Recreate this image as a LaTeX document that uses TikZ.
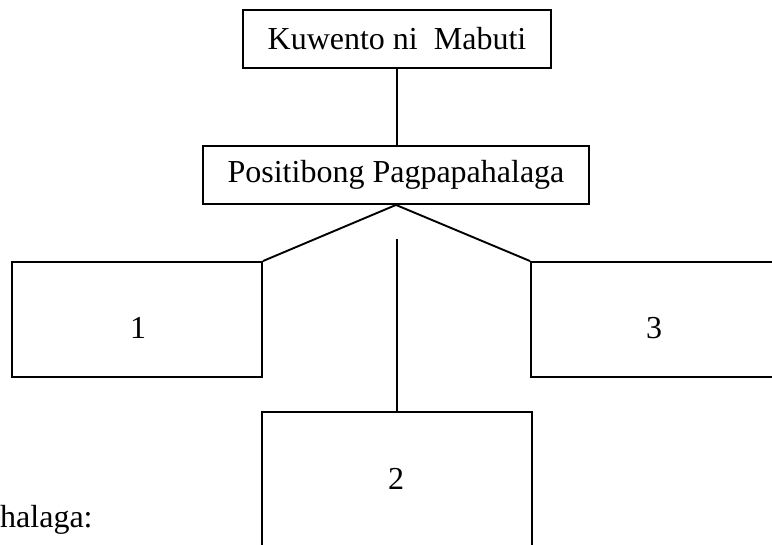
\documentclass[tikz,border=0pt]{standalone}
\usepackage{fontspec}
\setmainfont{Liberation Serif}
\begin{document}
\begin{tikzpicture}[x=1pt,y=-1pt,
  box/.style={draw, line width=1.9pt, rectangle, inner sep=0pt, font=\fontsize{32}{38}\selectfont},
  txt/.style={inner sep=0pt, anchor=base, font=\fontsize{32}{38}\selectfont},
  link/.style={line width=1.9pt}]
\useasboundingbox (0,0) rectangle (772,545);
\clip (0,0) rectangle (772,545);
\node[box, minimum width=308pt, minimum height=58pt] (top) at (397,39) {Kuwento ni\ \ Mabuti};
\node[box, minimum width=386pt, minimum height=58pt] (pos) at (396,175) {Positibong Pagpapahalaga};
\node[box, minimum width=250pt, minimum height=115pt] (b1) at (137,319.5) {};
\node[box, minimum width=300pt, minimum height=115pt] (b3) at (681,319.5) {};
\node[box, minimum width=270pt, minimum height=200pt] (b2) at (397,512) {};
\node[txt] (t1) at (138,339) {1};
\node[txt] (t3) at (654,339) {3};
\node[txt] (t2) at (396,490) {2};
\node[txt, anchor=base west] (note) at (0,528) {halaga:};
\coordinate (stem) at (397,239);
\draw[link] (top.south) -- (top.south |- pos.north);
\draw[link] (b1.north east) -- (pos.south) -- (b3.north west);
\draw[link] (stem) -- (b2.north);
\end{tikzpicture}
\end{document}
